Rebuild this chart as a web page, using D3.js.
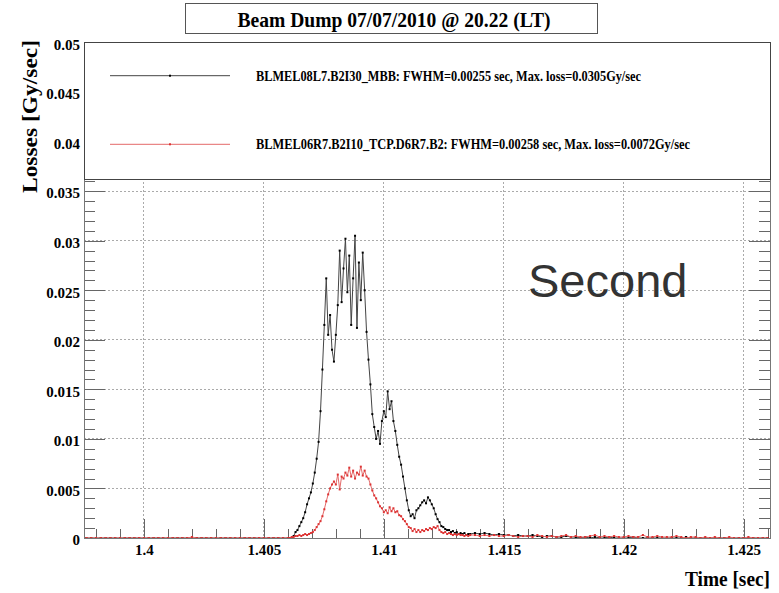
<!DOCTYPE html>
<html>
<head>
<meta charset="utf-8">
<style>
  body { margin: 0; background: #fff; }
  svg { display: block; }
  .root { font-family: "Liberation Serif", "Times New Roman", serif; font-weight: bold; fill: #000; }
</style>
</head>
<body>
<svg id="chart" width="779" height="593"></svg>
<script src="https://d3js.org/d3.v7.min.js"></script>
<script>
// --- data ---
// three sampling segments: flat lead-in, the dump itself, the tail
var leadStart = 1.3976, leadStep = 0.0002
var coreStart = 1.4060, coreStep = 0.00008
var tailStart = 1.4138, tailStep = 0.0002

var blackLead = [0,0,0,0,0,0,0,0,0,0,0,0,0,0,0,0,0,0,0,0,0,0,0,0,0,0,0,0,0,0,0,0,0,0,0,0,0,0,0,0,0,0]
var blackCore = [
  0, 0, 0, 0.0002, 0.0006, 0.0008, 0.0012, 0.0016, 0.0020, 0.0026,
  0.0034, 0.0040, 0.0046, 0.0055, 0.0066, 0.0080, 0.0097, 0.0128, 0.0170, 0.0215,
  0.0262, 0.0205, 0.0225, 0.0190, 0.0178, 0.0205, 0.0235, 0.0290, 0.0238, 0.0272,
  0.0302, 0.0248, 0.0285, 0.0215, 0.0262, 0.0305, 0.0212, 0.0278, 0.0240, 0.0288,
  0.0250, 0.0208, 0.0180, 0.0155, 0.0125, 0.0112, 0.0100, 0.0108, 0.0095, 0.0118,
  0.0128, 0.0122, 0.0148, 0.0130, 0.0138, 0.0118, 0.0108, 0.0094, 0.0082, 0.0074,
  0.0062, 0.0050, 0.0038, 0.0028, 0.0022, 0.0024, 0.0020, 0.0028, 0.0030, 0.0033,
  0.0036, 0.0038, 0.0035, 0.0041, 0.0038, 0.0034, 0.0030, 0.0024, 0.0019, 0.0016,
  0.0012, 0.0011, 0.0009, 0.0008, 0.0008, 0.0006, 0.0007, 0.0005, 0.0006, 0.0004,
  0.0005, 0.0004, 0.0005, 0.0003, 0.0004, 0.0004
]
var blackTail = [
  0.0005, 0.0004, 0.0005, 0.0004, 0.0003, 0.0004, 0.0003, 0.0003, 0.0002, 0.0003,
  0.0002, 0.0002, 0.0003, 0.0002, 0.0001, 0.0002, 0.0002, 0.0001, 0.0001, 0.0002,
  0.0001, 0.0001, 0, 0.0001, 0, 0.0001, 0, 0, 0.0001, 0,
  0, 0, 0, 0.0001, 0, 0, 0, 0, 0, 0,
  0, 0, 0, 0, 0.0001, 0, 0, 0, 0, 0,
  0, 0, 0, 0, 0, 0, 0, 0, 0, 0, 0, 0
]

var redLead = [0,0,0,0,0,0,0,0,0,0,0,0,0,0,0,0,0,0,0,0,0,0,0.0001,0,0,0,0,0,0,0,0,0,0,0,0,0,0,0,0,0,0,0]
var redCore = [
  0, 0, 0.0001, 0.0001, 0.0002, 0.0002, 0.0003, 0.0002, 0.0003, 0.0004,
  0.0003, 0.0004, 0.0005, 0.0006, 0.0008, 0.0011, 0.0014, 0.0017, 0.0022, 0.0029,
  0.0037, 0.0044, 0.0050, 0.0054, 0.0057, 0.0054, 0.0064, 0.0049, 0.0062, 0.0060,
  0.0066, 0.0063, 0.0071, 0.0062, 0.0068, 0.0060, 0.0066, 0.0064, 0.0072, 0.0063,
  0.0068, 0.0062, 0.0060, 0.0054, 0.0048, 0.0043, 0.0040, 0.0036, 0.0032, 0.0030,
  0.0026, 0.0028, 0.0025, 0.0031, 0.0027, 0.0030, 0.0026, 0.0027, 0.0023, 0.0022,
  0.0019, 0.0017, 0.0014, 0.0011, 0.0010, 0.0007, 0.0009, 0.0006, 0.0008, 0.0006,
  0.0008, 0.0007, 0.0009, 0.0008, 0.0010, 0.0009, 0.0011, 0.0010, 0.0012, 0.0008,
  0.0006, 0.0005, 0.0006, 0.0004, 0.0005, 0.0004, 0.0003, 0.0004, 0.0003, 0.0004,
  0.0003, 0.0003, 0.0002, 0.0003, 0.0002, 0.0003
]
var redTail = [
  0.0003, 0.0002, 0.0003, 0.0002, 0.0003, 0.0002, 0.0002, 0.0003, 0.0002, 0.0001,
  0.0002, 0.0002, 0.0001, 0.0003, 0.0002, 0.0001, 0.0002, 0.0001, 0.0002, 0.0003,
  0.0001, 0.0002, 0.0001, 0.0001, 0.0002, 0.0003, 0.0001, 0.0002, 0.0001, 0.0002,
  0.0001, 0.0001, 0.0002, 0.0001, 0.0001, 0.0003, 0.0001, 0.0001, 0.0002, 0.0001,
  0.0001, 0.0001, 0.0002, 0.0001, 0, 0.0001, 0.0001, 0, 0.0001, 0,
  0.0001, 0, 0, 0.0001, 0, 0, 0, 0.0001, 0, 0, 0, 0
]

var xMajor = [1.4, 1.405, 1.41, 1.415, 1.42, 1.425]
var xLabels = ['1.4', '1.405', '1.41', '1.415', '1.42', '1.425']
var yMajor = [0, 0.005, 0.01, 0.015, 0.02, 0.025, 0.03, 0.035, 0.04, 0.045, 0.05]
var yLabels = ['0', '0.005', '0.01', '0.015', '0.02', '0.025', '0.03', '0.035', '0.04', '0.045', '0.05']

var seriesNames = [
  'BLMEL08L7.B2I30_MBB: FWHM=0.00255 sec, Max. loss=0.0305Gy/sec',
  'BLMEL06R7.B2I10_TCP.D6R7.B2: FWHM=0.00258 sec, Max. loss=0.0072Gy/sec'
]

// build point lists from the segments
function points(lead, core, tail) {
  var out = []
  lead.forEach(function (v, i) { out.push({ t: leadStart + i * leadStep, v: v }) })
  core.forEach(function (v, i) { out.push({ t: coreStart + i * coreStep, v: v }) })
  tail.forEach(function (v, i) { out.push({ t: tailStart + i * tailStep, v: v }) })
  return out
}
var series = [
  { name: seriesNames[0], line: '#444', dot: '#000', pts: points(blackLead, blackCore, blackTail) },
  { name: seriesNames[1], line: '#e46a6a', dot: '#d33', pts: points(redLead, redCore, redTail) }
]

var svg = d3.select('#chart')
// note: "top" is taken by window.top, hence the names
var padL = 84, padR = 770, padT = 42, padB = 538

var x = d3.scaleLinear().domain([1.3975, 1.4261]).range([padL, padR])
var y = d3.scaleLinear().domain([0, 0.05]).range([padB, 42.5])

var xMinor = d3.range(1.398, 1.4261, 0.001).filter(function (t) {
  return !xMajor.some(function (m) { return Math.abs(m - t) < 1e-7 })
})
var yMinor = d3.range(0.001, 0.0501, 0.001).filter(function (v) {
  return !yMajor.some(function (m) { return Math.abs(m - v) < 1e-7 })
})

// grid
var grid = svg.append('g').attr('stroke', '#aaa').attr('stroke-dasharray', '2,2')
  .attr('shape-rendering', 'crispEdges')
grid.selectAll('.gx').data(xMajor).enter().append('line')
  .attr('x1', function (d) { return x(d) }).attr('x2', function (d) { return x(d) })
  .attr('y1', padT).attr('y2', padB)
grid.selectAll('.gy').data(yMajor.slice(1)).enter().append('line')
  .attr('x1', padL).attr('x2', padR)
  .attr('y1', function (d) { return y(d) }).attr('y2', function (d) { return y(d) })

// ticks
function styleAxis(g) {
  g.select('.domain').remove()
  g.selectAll('.tick line').attr('stroke', '#666').attr('shape-rendering', 'crispEdges')
  g.attr('font-family', null).attr('font-size', null)
  g.selectAll('text').attr('class', 'root').attr('font-size', 15).attr('fill', '#000')
}
svg.append('g').attr('transform', 'translate(0,' + padB + ')')
  .call(d3.axisBottom(x).tickValues(xMinor).tickSizeInner(-9).tickSizeOuter(0).tickFormat(''))
  .call(styleAxis)
svg.append('g').attr('transform', 'translate(0,' + padB + ')')
  .call(d3.axisBottom(x).tickValues(xMajor).tickSizeInner(-19).tickSizeOuter(0).tickPadding(6)
    .tickFormat(function (d, i) { return xLabels[i] }))
  .call(styleAxis)
svg.append('g').attr('transform', 'translate(' + padL + ',0)')
  .call(d3.axisLeft(y).tickValues(yMinor).tickSizeInner(-11).tickSizeOuter(0).tickFormat(''))
  .call(styleAxis)
svg.append('g').attr('transform', 'translate(' + padL + ',0)')
  .call(d3.axisLeft(y).tickValues(yMajor).tickSizeInner(-21).tickSizeOuter(0).tickPadding(4)
    .tickFormat(function (d, i) { return yLabels[i] }))
  .call(styleAxis)
  .selectAll('text').attr('dy', '0.45em')
svg.append('g').attr('transform', 'translate(' + padR + ',0)')
  .call(d3.axisRight(y).tickValues(yMinor).tickSizeInner(-11).tickSizeOuter(0).tickFormat(''))
  .call(styleAxis)
svg.append('g').attr('transform', 'translate(' + padR + ',0)')
  .call(d3.axisRight(y).tickValues(yMajor).tickSizeInner(-21).tickSizeOuter(0).tickFormat(''))
  .call(styleAxis)

// series
var line = d3.line().x(function (d) { return x(d.t) }).y(function (d) { return y(d.v) })
series.forEach(function (s) {
  svg.append('path').datum(s.pts)
    .attr('d', line).attr('fill', 'none').attr('stroke', s.line).attr('stroke-width', 1)
  svg.append('g').selectAll('rect').data(s.pts).enter().append('rect')
    .attr('x', function (d) { return x(d.t) - 1 }).attr('y', function (d) { return y(d.v) - 1 })
    .attr('width', 2).attr('height', 2).attr('fill', s.dot)
})

// frame
svg.append('g').attr('stroke', '#777').attr('fill', 'none').attr('shape-rendering', 'crispEdges')
  .append('path').attr('d', 'M' + padL + ',' + padT + 'V' + padB + 'H' + padR + 'V' + padT)

// legend box sits over the top of the plot
var lg = svg.append('g')
lg.append('rect').attr('x', padL).attr('y', padT).attr('width', padR - padL).attr('height', 137)
  .attr('fill', '#fff').attr('stroke', '#444').attr('shape-rendering', 'crispEdges')
var legendY = [75.7, 144.3]
var legendW = [385, 434]
series.forEach(function (s, i) {
  lg.append('line').attr('x1', 110).attr('x2', 230).attr('y1', legendY[i]).attr('y2', legendY[i])
    .attr('stroke', s.line)
  lg.append('rect').attr('x', 169).attr('y', legendY[i] - 1).attr('width', 2).attr('height', 2)
    .attr('fill', s.dot)
  lg.append('text').attr('class', 'root').attr('x', 256).attr('y', legendY[i] + 5)
    .attr('font-size', 14).attr('textLength', legendW[i]).attr('lengthAdjust', 'spacingAndGlyphs')
    .text(s.name)
})

// title
svg.append('rect').attr('x', 185.5).attr('y', 3.5).attr('width', 412).attr('height', 30)
  .attr('fill', '#fff').attr('stroke', '#555')
svg.append('text').attr('class', 'root').attr('x', 394).attr('y', 27).attr('text-anchor', 'middle')
  .attr('font-size', 22).attr('textLength', 313).attr('lengthAdjust', 'spacingAndGlyphs')
  .text('Beam Dump 07/07/2010 @ 20.22 (LT)')

// axis titles
svg.append('text').attr('class', 'root').attr('transform', 'translate(37,116.5) rotate(-90)')
  .attr('text-anchor', 'middle').attr('font-size', 22)
  .attr('textLength', 153).attr('lengthAdjust', 'spacingAndGlyphs')
  .text('Losses [Gy/sec]')
svg.append('text').attr('class', 'root').attr('x', 770).attr('y', 586).attr('text-anchor', 'end')
  .attr('font-size', 21).attr('textLength', 85).attr('lengthAdjust', 'spacingAndGlyphs')
  .text('Time [sec]')

// annotation
svg.append('text').attr('x', 528).attr('y', 297)
  .attr('font-family', '"Liberation Sans", Arial, sans-serif').attr('font-size', 47).attr('fill', '#333')
  .text('Second')
</script>
</body>
</html>
